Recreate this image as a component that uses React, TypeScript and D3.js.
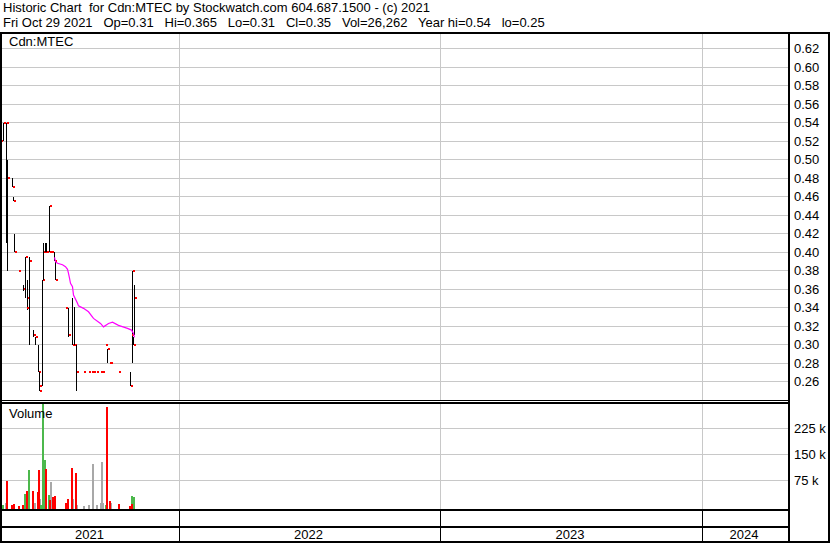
import React from "react";
import * as d3 from "d3";

const W = 830;
const H = 543;

const headerLine1 = "Historic Chart  for Cdn:MTEC by Stockwatch.com 604.687.1500 - (c) 2021";
const headerLine2 = "Fri Oct 29 2021   Op=0.31   Hi=0.365   Lo=0.31   Cl=0.35   Vol=26,262   Year hi=0.54   lo=0.25";
const symbolLabel = "Cdn:MTEC";
const volumeLabel = "Volume";

const priceTicks = [0.26, 0.28, 0.3, 0.32, 0.34, 0.36, 0.38, 0.4, 0.42, 0.44, 0.46, 0.48, 0.5, 0.52, 0.54, 0.56, 0.58, 0.6, 0.62];
const volumeTicks = [75000, 150000, 225000];
const volumeTickLabels = ["75 k", "150 k", "225 k"];
const yearLabels = ["2021", "2022", "2023", "2024"];
const yearStartDays = [0, 177, 438, 700];
const lastDay = 786;

// trading-day index, open (null = no open tick), high, low, close
const bars: [number, number | null, number, number, number][] = [
  [1, 0.52, 0.54, 0.52, 0.54],
  [4, null, 0.54, 0.41, 0.54],
  [5, null, 0.5, 0.38, 0.48],
  [10, null, 0.48, 0.47, 0.47],
  [11, null, 0.46, 0.455, 0.455],
  [12, null, 0.42, 0.4, 0.4],
  [17, null, 0.38, 0.38, 0.38],
  [21, null, 0.365, 0.358, 0.36],
  [23, null, 0.395, 0.35, 0.395],
  [25, null, 0.37, 0.338, 0.35],
  [27, 0.34, 0.395, 0.3, 0.39],
  [31, null, 0.316, 0.308, 0.31],
  [33, null, 0.308, 0.3, 0.308],
  [36, null, 0.3, 0.27, 0.27],
  [37, null, 0.27, 0.25, 0.25],
  [40, 0.255, 0.37, 0.255, 0.37],
  [41, null, 0.41, 0.37, 0.4],
  [43, null, 0.41, 0.4, 0.4],
  [44, null, 0.41, 0.4, 0.4],
  [47, null, 0.45, 0.4, 0.45],
  [48, null, 0.4, 0.4, 0.4],
  [50, null, 0.4, 0.4, 0.4],
  [52, null, 0.4, 0.39, 0.39],
  [53, null, 0.39, 0.37, 0.37],
  [66, 0.34, 0.34, 0.308, 0.31],
  [70, null, 0.351, 0.3, 0.3],
  [72, null, 0.341, 0.3, 0.3],
  [74, null, 0.3, 0.25, 0.27],
  [82, null, 0.27, 0.27, 0.27],
  [87, null, 0.27, 0.27, 0.27],
  [90, null, 0.27, 0.27, 0.27],
  [92, null, 0.27, 0.27, 0.27],
  [95, null, 0.27, 0.27, 0.27],
  [99, null, 0.27, 0.27, 0.27],
  [101, null, 0.27, 0.27, 0.27],
  [104, null, 0.3, 0.3, 0.3],
  [105, null, 0.295, 0.28, 0.295],
  [108, null, 0.28, 0.28, 0.28],
  [109, null, 0.28, 0.28, 0.28],
  [117, null, 0.27, 0.27, 0.27],
  [128, null, 0.27, 0.255, 0.255],
  [130, null, 0.38, 0.28, 0.38],
  [131, null, 0.308, 0.3, 0.3],
  [132, 0.31, 0.365, 0.31, 0.35],
];

// moving average line
const maDays = [52, 53, 55, 60, 63, 65, 66, 67, 68, 70, 71, 75, 76, 81, 86, 91, 98, 101, 106, 110, 116, 125, 129, 131, 132];
const maValues = [0.3945, 0.3897, 0.388, 0.3865, 0.3843, 0.3815, 0.3772, 0.372, 0.3663, 0.3627, 0.3537, 0.3447, 0.342, 0.3393, 0.3356, 0.3284, 0.323, 0.3193, 0.323, 0.3244, 0.3209, 0.3176, 0.3158, 0.3122, 0.3079];

// trading-day index, volume, direction
const volumes: [number, number, string][] = [
  [-2, 35000, "flat"],
  [0, 4000, "up"],
  [3, 9000, "flat"],
  [4, 73000, "down"],
  [9, 4000, "down"],
  [11, 7000, "down"],
  [16, 1500, "down"],
  [20, 4000, "down"],
  [22, 35000, "up"],
  [24, 44000, "down"],
  [26, 105000, "up"],
  [30, 44000, "down"],
  [32, 9000, "flat"],
  [37, 21000, "flat"],
  [35, 41000, "down"],
  [36, 105000, "down"],
  [38, 4000, "up"],
  [40, 330000, "up"],
  [42, 134000, "up"],
  [43, 108000, "down"],
  [46, 33000, "up"],
  [48, 70000, "flat"],
  [47, 18000, "down"],
  [50, 27000, "down"],
  [52, 30000, "down"],
  [63, 9000, "down"],
  [65, 21000, "down"],
  [70, 21000, "flat"],
  [69, 111000, "down"],
  [74, 4000, "flat"],
  [73, 96000, "down"],
  [81, 2000, "flat"],
  [86, 4000, "flat"],
  [90, 122000, "flat"],
  [94, 4000, "flat"],
  [98, 9000, "flat"],
  [99, 128000, "flat"],
  [100, 9000, "flat"],
  [103, 4000, "up"],
  [104, 287000, "down"],
  [108, 9000, "flat"],
  [107, 15000, "down"],
  [116, 7000, "down"],
  [127, 2000, "down"],
  [129, 30000, "up"],
  [129, 7000, "down"],
  [131, 26262, "up"],
];

const volColors: Record<string, string> = { up: "#4cb84c", down: "#ff0000", flat: "#a8a8a8" };

const FONT = "'Liberation Sans', Arial, sans-serif";
const GRID = "#c8c8c8";

export default function App() {
  const plotL = 2;
  const plotR = 788;
  const priceTop = 34;
  const priceBottom = 400;
  const volTop = 404;
  const volBottom = 509;

  const x = d3.scaleLinear().domain([0, lastDay]).range([plotL, plotR]);
  const yP = d3.scaleLinear().domain([0.24, 0.64]).range([400.2, 30.2]);
  const yV = d3.scaleLinear().domain([0, 300000]).range([506.3, 402.3]);

  const maLine = d3
    .line<number>()
    .x((_, i) => x(maDays[i]) + 0.5)
    .y((v) => yP(v));

  const yearX = yearStartDays.map((d) => Math.round(x(d)));
  const segEnds = [...yearX.slice(1), plotR];

  return (
    <svg
      width={W}
      height={H}
      viewBox={`0 0 ${W} ${H}`}
      style={{ position: "absolute", left: 0, top: 0, background: "#fff" }}
      fontFamily={FONT}
    >
      <rect x={0} y={0} width={W} height={H} fill="#fff" />
      {/* header */}
      <text x={3} y={11.5} fontSize={13} fill="#000" style={{ whiteSpace: "pre" }}>
        {headerLine1}
      </text>
      <text x={3} y={26.5} fontSize={13} fill="#000" style={{ whiteSpace: "pre" }}>
        {headerLine2}
      </text>

      {/* price grid */}
      {priceTicks.map((t) => {
        const yy = Math.floor(yP(t)) + 0.5;
        return <line key={"pg" + t} x1={plotL} x2={plotR} y1={yy} y2={yy} stroke={GRID} strokeWidth={1} />;
      })}
      {/* volume grid */}
      {volumeTicks.map((t) => {
        const yy = Math.floor(yV(t)) + 0.5;
        return <line key={"vg" + t} x1={plotL} x2={plotR} y1={yy} y2={yy} stroke={GRID} strokeWidth={1} />;
      })}
      {/* vertical year grid */}
      {yearX.slice(1).map((xx, i) => (
        <g key={"yg" + i}>
          <line x1={xx + 0.5} x2={xx + 0.5} y1={priceTop} y2={priceBottom} stroke={GRID} />
          <line x1={xx + 0.5} x2={xx + 0.5} y1={volTop} y2={volBottom} stroke={GRID} />
          <line x1={xx + 0.5} x2={xx + 0.5} y1={511} y2={541} stroke="#000" />
        </g>
      ))}

      {/* price bars */}
      {bars.map(([d, o, h, l, c], i) => {
        const xx = Math.round(x(d));
        const yh = yP(h);
        const yl = yP(l);
        if (h === l) {
          return <rect key={"b" + i} x={xx} y={Math.round(yP(c)) - 1} width={2} height={2} fill="#ff0000" />;
        }
        return (
          <g key={"b" + i}>
            <rect x={xx} y={Math.round(yh)} width={1} height={Math.max(1, Math.round(yl) - Math.round(yh))} fill="#000" />
            {o !== null && (
              <rect x={xx - 2} y={Math.round(yP(o)) - 1} width={2} height={2} fill="#ff0000" />
            )}
            <rect x={xx + 1} y={Math.round(yP(c)) - 1} width={2} height={2} fill="#ff0000" />
          </g>
        );
      })}

      {/* moving average */}
      <path d={maLine(maValues) || ""} fill="none" stroke="#ff00ff" strokeWidth={1.2} />

      {/* volume bars */}
      {volumes.map(([d, v, dir], i) => {
        const top = Math.max(volTop, Math.round(yV(v)));
        return (
          <rect key={"v" + i} x={Math.round(x(d))} y={top} width={2} height={volBottom - top} fill={volColors[dir]} />
        );
      })}

      {/* frame */}
      <rect x={0} y={32} width={W} height={2} fill="#000" />
      <rect x={0} y={32} width={2} height={H - 32} fill="#000" />
      <rect x={W - 2} y={32} width={2} height={H - 32} fill="#000" />
      <rect x={plotR} y={32} width={2} height={H - 32} fill="#000" />
      <rect x={0} y={priceBottom} width={plotR} height={1} fill="#000" />
      <rect x={0} y={402} width={plotR} height={2} fill="#000" />
      <rect x={0} y={volBottom} width={plotR} height={2} fill="#000" />
      <rect x={0} y={526} width={plotR} height={2} fill="#000" />
      <rect x={0} y={541} width={W} height={2} fill="#000" />

      {/* labels */}
      <text x={9} y={46} fontSize={13} fill="#000">
        {symbolLabel}
      </text>
      <text x={9} y={418} fontSize={13} fill="#000">
        {volumeLabel}
      </text>

      {priceTicks.map((t) => (
        <text key={"pt" + t} x={794} y={Math.floor(yP(t)) + 5} fontSize={13} fill="#000">
          {t.toFixed(2)}
        </text>
      ))}
      {volumeTicks.map((t, i) => (
        <text key={"vt" + t} x={794} y={Math.floor(yV(t)) + 5} fontSize={13} fill="#000">
          {volumeTickLabels[i]}
        </text>
      ))}

      {yearLabels.map((lab, i) => (
        <text
          key={"yl" + lab}
          x={(yearX[i] + segEnds[i]) / 2 - 1}
          y={539}
          fontSize={13}
          textAnchor="middle"
          fill="#000"
        >
          {lab}
        </text>
      ))}
    </svg>
  );
}
